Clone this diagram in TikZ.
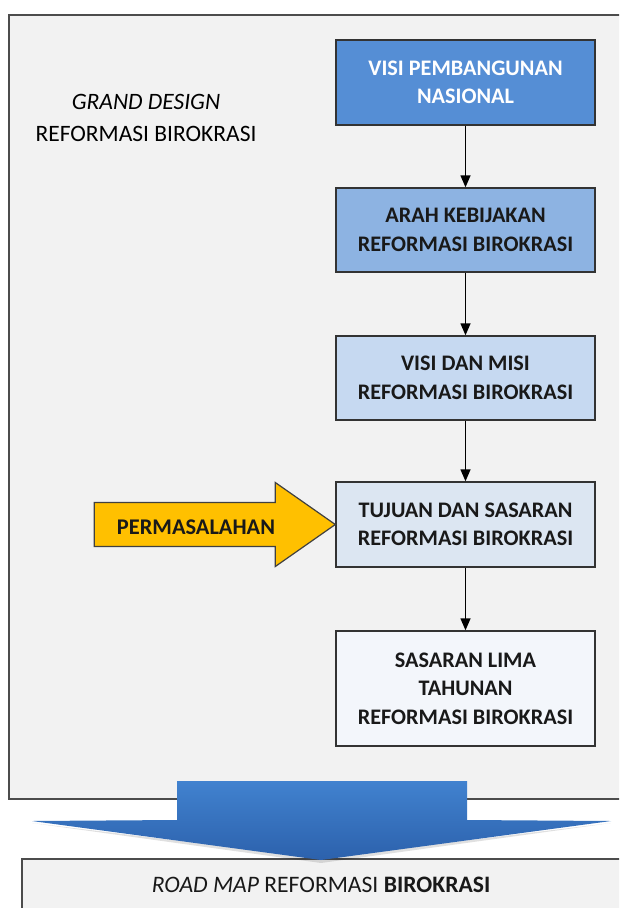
\documentclass[tikz,border=0pt]{standalone}
\usepackage{fontspec}
\setmainfont{Carlito}
\usetikzlibrary{arrows.meta}

\definecolor{panelgray}{HTML}{F2F2F2}
\definecolor{blueA}{HTML}{558ED5}
\definecolor{blueB}{HTML}{8DB3E2}
\definecolor{blueC}{HTML}{C6D9F1}
\definecolor{blueD}{HTML}{DCE6F2}
\definecolor{blueE}{HTML}{F3F6FB}
\definecolor{gold}{HTML}{FFC000}
\definecolor{bigtop}{HTML}{4182CF}
\definecolor{bigbot}{HTML}{2C61AC}

\begin{document}
\begin{tikzpicture}[x=1pt, y=1pt,
  panel/.style={draw=black!70, line width=1.3pt, fill=panelgray},
  stage/.style={draw=black!80, line width=1.4pt, minimum width=259pt, align=center,
    text=black!90, font=\fontsize{22.2}{28.5}\selectfont\bfseries},
  flow/.style={-{Triangle[length=12pt,width=10pt]}, line width=1.4pt},
  lbl/.style={align=center, font=\fontsize{23.5}{32}\selectfont}]
\clip (0,0) rectangle (619,-908);
\fill[white] (0,0) rectangle (619,-908);

\draw[panel] (9,-15) rectangle (640,-799);
\draw[panel] (22,-859) rectangle (640,-930);

\node[lbl] (gd) at (146,-118) {\textit{GRAND DESIGN}\\REFORMASI BIROKRASI};

\node[stage, fill=blueA, text=white, minimum height=85pt] (visi) at (465.5,-82.5) {VISI PEMBANGUNAN\\NASIONAL};
\node[stage, fill=blueB, minimum height=84pt] (arah) at (465.5,-230) {ARAH KEBIJAKAN\\REFORMASI BIROKRASI};
\node[stage, fill=blueC, minimum height=84pt] (misi) at (465.5,-378) {VISI DAN MISI\\REFORMASI BIROKRASI};
\node[stage, fill=blueD, minimum height=85pt] (tujuan) at (465.5,-524.5) {TUJUAN DAN SASARAN\\REFORMASI BIROKRASI};
\node[stage, fill=blueE, minimum height=115pt] (lima) at (465.5,-688.5) {SASARAN LIMA\\TAHUNAN\\REFORMASI BIROKRASI};

\draw[flow] (visi) -- (arah);
\draw[flow] (arah) -- (misi);
\draw[flow] (misi) -- (tujuan);
\draw[flow] (tujuan) -- (lima);

% problem arrow into the goals box
\draw[draw=black!75, line width=1.2pt, fill=gold, line join=miter]
  (tujuan.west) -- ++(-60,42) -- ++(0,-20) -- ++(-181,0) -- ++(0,-44)
  -- ++(181,0) -- ++(0,-20) -- cycle;
\node[font=\fontsize{22.4}{28}\selectfont\bfseries, text=black!90] (masalah) at (196,-527) {PERMASALAHAN};

% big arrow down to the road map
\fill[black, opacity=0.12] (32,-823) -- (321,-863) -- (611,-823) -- (321,-858) -- cycle;
\shade[top color=bigtop, bottom color=bigbot]
  (177,-781) -- (467,-781) -- (467,-820) -- (611,-821) -- (321,-860)
  -- (32,-821) -- (177,-820) -- cycle;

\node[font=\fontsize{23.6}{28}\selectfont, text=black!90] (roadmap) at (321,-885) {\textit{ROAD MAP} REFORMASI \textbf{BIROKRASI}};
\end{tikzpicture}
\end{document}
